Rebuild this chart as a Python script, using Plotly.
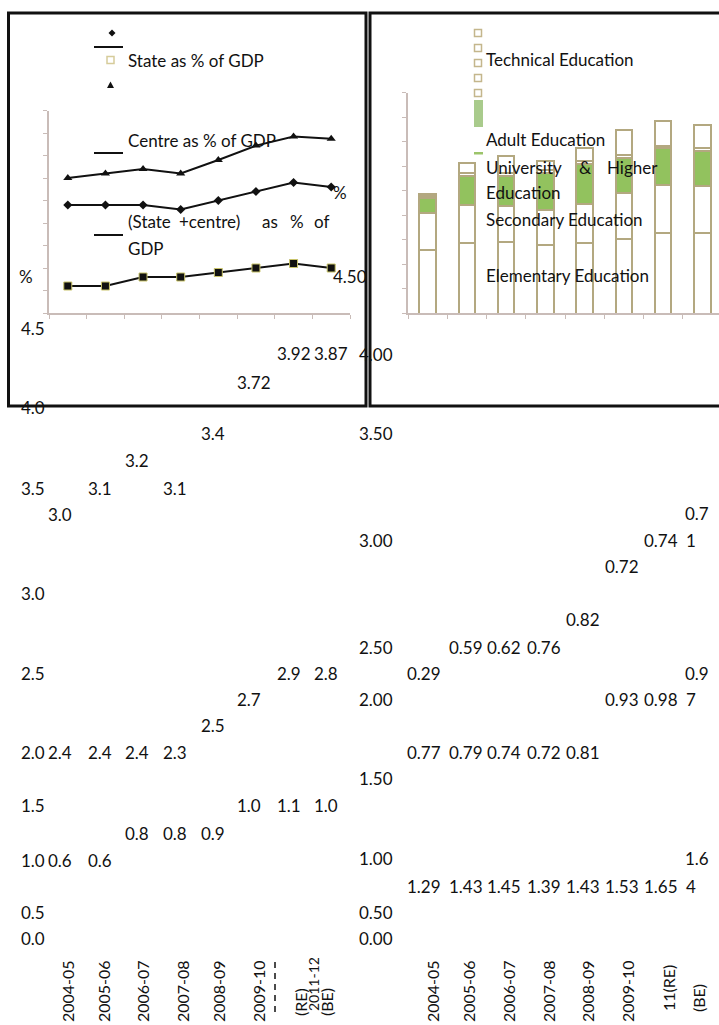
import plotly.graph_objects as go
import numpy as np

W, H = 719, 1025
FONT = "Lato"
FS = 17

# ---------------- data ----------------
years = ["2004-05", "2005-06", "2006-07", "2007-08", "2008-09", "2009-10", "2010-11", "2011-12"]
year_notes = ["", "", "", "", "", "", "(RE)", "(BE)"]

# left chart: expenditure on education as % of GDP
centre_gdp = [0.6, 0.6, 0.8, 0.8, 0.9, 1.0, 1.1, 1.0]
state_gdp = [2.4, 2.4, 2.4, 2.3, 2.5, 2.7, 2.9, 2.8]
total_gdp = [3.0, 3.1, 3.2, 3.1, 3.4, 3.72, 3.92, 3.87]

# right chart: sector-wise expenditure as % of GDP
elementary = [1.29, 1.43, 1.45, 1.39, 1.43, 1.53, 1.65, 1.64]
secondary = [0.77, 0.79, 0.74, 0.72, 0.81, 0.93, 0.98, 0.97]
university = [0.29, 0.59, 0.62, 0.76, 0.82, 0.72, 0.74, 0.71]
adult = [0.04, 0.05, 0.05, 0.05, 0.05, 0.05, 0.05, 0.05]        # (no labels)
technical = [0.05, 0.22, 0.36, 0.19, 0.27, 0.51, 0.50, 0.48]    # (no labels)

left_tick_vals = [4.5, 4.0, 3.5, 3.0, 2.5, 2.0, 1.5, 1.0, 0.5, 0.0]
right_tick_vals = [4.5, 4.0, 3.5, 3.0, 2.5, 2.0, 1.5, 1.0, 0.5, 0.0]

left_legend = ["State as % of GDP", "Centre as % of GDP", "(State +centre) as % of GDP"]
right_legend = ["Technical Education", "Adult Education", "University & Higher Education",
                "Secondary Education", "Elementary Education"]

# ---------------- layout positions (pixels) ----------------
L_COLS = [47, 87, 124, 162, 200, 236, 276, 313]
R_COLS = [406, 448, 486, 526, 565, 604, 643, 684]
total_rows = [514, 488, 461, 488, 434, 382, 353, 353]
state_rows = [752, 752, 752, 752, 725, 699, 673, 673]
centre_rows = [860, 860, 833, 833, 833, 805, 805, 805]
univ_rows = [673, 647, 647, 647, 619, 566, 540, (513, 540)]
sec_rows = [752, 752, 752, 752, 752, 699, 699, (673, 699)]
elem_rows = [886, 886, 886, 886, 886, 886, 886, (858, 886)]
left_tick_pos = [328, 407, 488, 593, 673, 752, 805, 860, 912, 938]
right_tick_pos = [(332, 276), (358, 354), (358, 434), (358, 540), (358, 647), (358, 699),
                  (358, 778), (358, 858), (358, 912), (358, 938)]
left_xlab_x = [67, 103, 142, 182, 218, 258]
right_xlab_x = [432, 468, 508, 548, 587, 627]

AXC = "#c9bcb8"
TAN = "#b3a880"
GREEN = "#92c25e"


def px(x):
    return x / W


def py(y):
    return 1 - y / H


annotations = []
shapes = []


def txt(s, x, y, xanchor="left", yanchor="middle", angle=0, size=FS):
    annotations.append(dict(text=s, x=px(x), y=py(y), xref="paper", yref="paper",
                            xanchor=xanchor, yanchor=yanchor, showarrow=False,
                            textangle=angle, borderpad=0,
                            font=dict(family=FONT, size=size, color="#111111")))


def fmt1(v):
    return f"{v:.1f}" if abs(v * 10 - round(v * 10)) < 1e-9 else f"{v:.2f}"


fig = go.Figure()

# ---------------- left chart (lines) ----------------
fig.add_trace(go.Scatter(x=years, y=total_gdp, mode="lines+markers", xaxis="x", yaxis="y",
                         line=dict(color="#111", width=2),
                         marker=dict(symbol="triangle-up", size=8, color="#111")))
fig.add_trace(go.Scatter(x=years, y=state_gdp, mode="lines+markers", xaxis="x", yaxis="y",
                         line=dict(color="#111", width=2),
                         marker=dict(symbol="diamond", size=7, color="#111")))
fig.add_trace(go.Scatter(x=years, y=centre_gdp, mode="lines+markers", xaxis="x", yaxis="y",
                         line=dict(color="#111", width=2),
                         marker=dict(symbol="square", size=8, color="#111",
                                     line=dict(color="#c9c46a", width=1))))

# ---------------- right chart (stacked bars) ----------------
for vals, fill in [(elementary, "white"), (secondary, "white"), (university, GREEN),
                   (adult, "white"), (technical, "white")]:
    fig.add_trace(go.Bar(x=years, y=vals, xaxis="x2", yaxis="y2", width=0.42,
                         marker=dict(color=fill, line=dict(color=TAN, width=2))))

# ---------------- text layer ----------------
for i in range(8):
    txt(fmt1(total_gdp[i]), L_COLS[i], total_rows[i])
    txt(fmt1(state_gdp[i]), L_COLS[i], state_rows[i])
    txt(fmt1(centre_gdp[i]), L_COLS[i], centre_rows[i])

for vals, rows in [(university, univ_rows), (secondary, sec_rows), (elementary, elem_rows)]:
    for i in range(8):
        s = f"{vals[i]:.2f}"
        if isinstance(rows[i], tuple):
            txt(s[:3], R_COLS[i], rows[i][0])
            txt(s[3:], R_COLS[i] + 1, rows[i][1])
        else:
            txt(s, R_COLS[i], rows[i])

for v, y in zip(left_tick_vals, left_tick_pos):
    txt(f"{v:.1f}", 20, y)
for v, (x, y) in zip(right_tick_vals, right_tick_pos):
    txt(f"{v:.2f}", x, y)
txt("%", 18, 276)
txt("%", 332, 193)

# rotated category labels
RS = 16
for i, x in enumerate(left_xlab_x):
    txt(years[i], x, 1023, xanchor="center", yanchor="bottom", angle=-90, size=RS)
for i, x in enumerate(right_xlab_x):
    txt(years[i], x, 1023, xanchor="center", yanchor="bottom", angle=-90, size=RS)
txt(year_notes[6], 300, 1017, xanchor="center", yanchor="bottom", angle=-90, size=RS)
txt(years[7], 313, 1012, xanchor="center", yanchor="bottom", angle=-90, size=14)
txt(year_notes[7], 326, 1017, xanchor="center", yanchor="bottom", angle=-90, size=RS)
txt(years[6][-2:] + year_notes[6], 668, 1012, xanchor="center", yanchor="bottom", angle=-90, size=RS)
txt(year_notes[7], 698, 1013, xanchor="center", yanchor="bottom", angle=-90, size=RS)
shapes.append(dict(type="line", xref="paper", yref="paper", x0=px(275), x1=px(275),
                   y0=py(962), y1=py(1012), line=dict(color="#111", width=1.5, dash="6px,5px")))

# left legend text
txt(left_legend[0], 127, 60)
txt(left_legend[1], 127, 140)
words = left_legend[2].split(" ")
for w, x in zip(words[:5], [127, 178, 261, 289, 313]):
    txt(w, x, 222)
txt(words[5], 127, 248)

# right legend text
txt(right_legend[0], 485, 59)
txt(right_legend[1], 485, 139)
uw = right_legend[2].split(" ")
for w, x in zip(uw[:3], [485, 578, 606]):
    txt(w, x, 167)
txt(uw[3], 485, 193)
txt(right_legend[3], 485, 220)
txt(right_legend[4], 485, 275)

# ---------------- legend glyphs ----------------
def seg(x0, x1, y, color="#111", width=2):
    shapes.append(dict(type="line", xref="paper", yref="paper", x0=px(x0), x1=px(x1),
                       y0=py(y), y1=py(y), line=dict(color=color, width=width)))


def path_shape(pts, fill, line_color=None, lw=0):
    d = "M " + " L ".join(f"{px(a):.5f},{py(b):.5f}" for a, b in pts) + " Z"
    shapes.append(dict(type="path", xref="paper", yref="paper", path=d, fillcolor=fill,
                       line=dict(color=line_color or fill, width=lw)))


def rect(x0, y0, x1, y1, fill, line_color=None, lw=0):
    shapes.append(dict(type="rect", xref="paper", yref="paper", x0=px(x0), x1=px(x1),
                       y0=py(y1), y1=py(y0), fillcolor=fill,
                       line=dict(color=line_color or fill, width=lw)))


path_shape([(112, 29.5), (115.5, 33), (112, 36.5), (108.5, 33)], "#111")
seg(94, 123, 47)
rect(107, 56.5, 114, 63.5, "rgba(0,0,0,0)", "#d6cc9a", 1.5)
path_shape([(110.5, 81.5), (114, 88), (107, 88)], "#111")
seg(94, 123, 153)
seg(94, 123, 235)

for y in [33, 48, 63, 78, 93]:
    rect(474.5, y - 3.5, 481.5, y + 3.5, "rgba(0,0,0,0)", "#c4b68c", 1.5)
rect(474, 100, 483, 127, "#a9cb8c")
rect(474, 152, 483, 154.5, "#9cc46a")

# ---------------- boxes ----------------
shapes.append(dict(type="rect", xref="paper", yref="paper", x0=px(8.5), x1=px(366),
                   y0=py(406), y1=py(13), line=dict(color="#111", width=3), layer="above"))
shapes.append(dict(type="rect", xref="paper", yref="paper", x0=px(370), x1=px(730),
                   y0=py(406), y1=py(13), line=dict(color="#111", width=3), layer="above"))

axis_common = dict(showgrid=False, zeroline=False, showticklabels=False, showline=True,
                   linecolor=AXC, linewidth=1.5, ticks="outside", tickcolor=AXC,
                   tickwidth=1, ticklen=4, fixedrange=True)

fig.update_layout(
    width=W, height=H, autosize=False,
    margin=dict(l=0, r=0, t=0, b=0),
    paper_bgcolor="white", plot_bgcolor="rgba(0,0,0,0)",
    showlegend=False, barmode="stack", bargap=0,
    xaxis=dict(domain=[px(49), px(350)], range=[-0.5, 7.5], type="category",
               tickson="boundaries", anchor="y", **axis_common),
    yaxis=dict(domain=[py(313), py(110.5)], range=[0, 4.5], dtick=0.5, tick0=0,
               anchor="x", **axis_common),
    xaxis2=dict(domain=[px(408), 1.0], range=[-0.5, -0.5 + 8 * (W - 408) / 314.0],
                type="category", tickson="boundaries", anchor="y2", **axis_common),
    yaxis2=dict(domain=[py(313), py(92.5)], range=[0, 4.5], dtick=0.5, tick0=0,
                anchor="x2", **axis_common),
    annotations=annotations,
    shapes=shapes,
)

fig.write_html("out.html", config={"displayModeBar": False},
               post_script="document.body.style.margin='0px';document.body.style.padding='0px';"
                           "document.body.style.overflow='hidden';")
